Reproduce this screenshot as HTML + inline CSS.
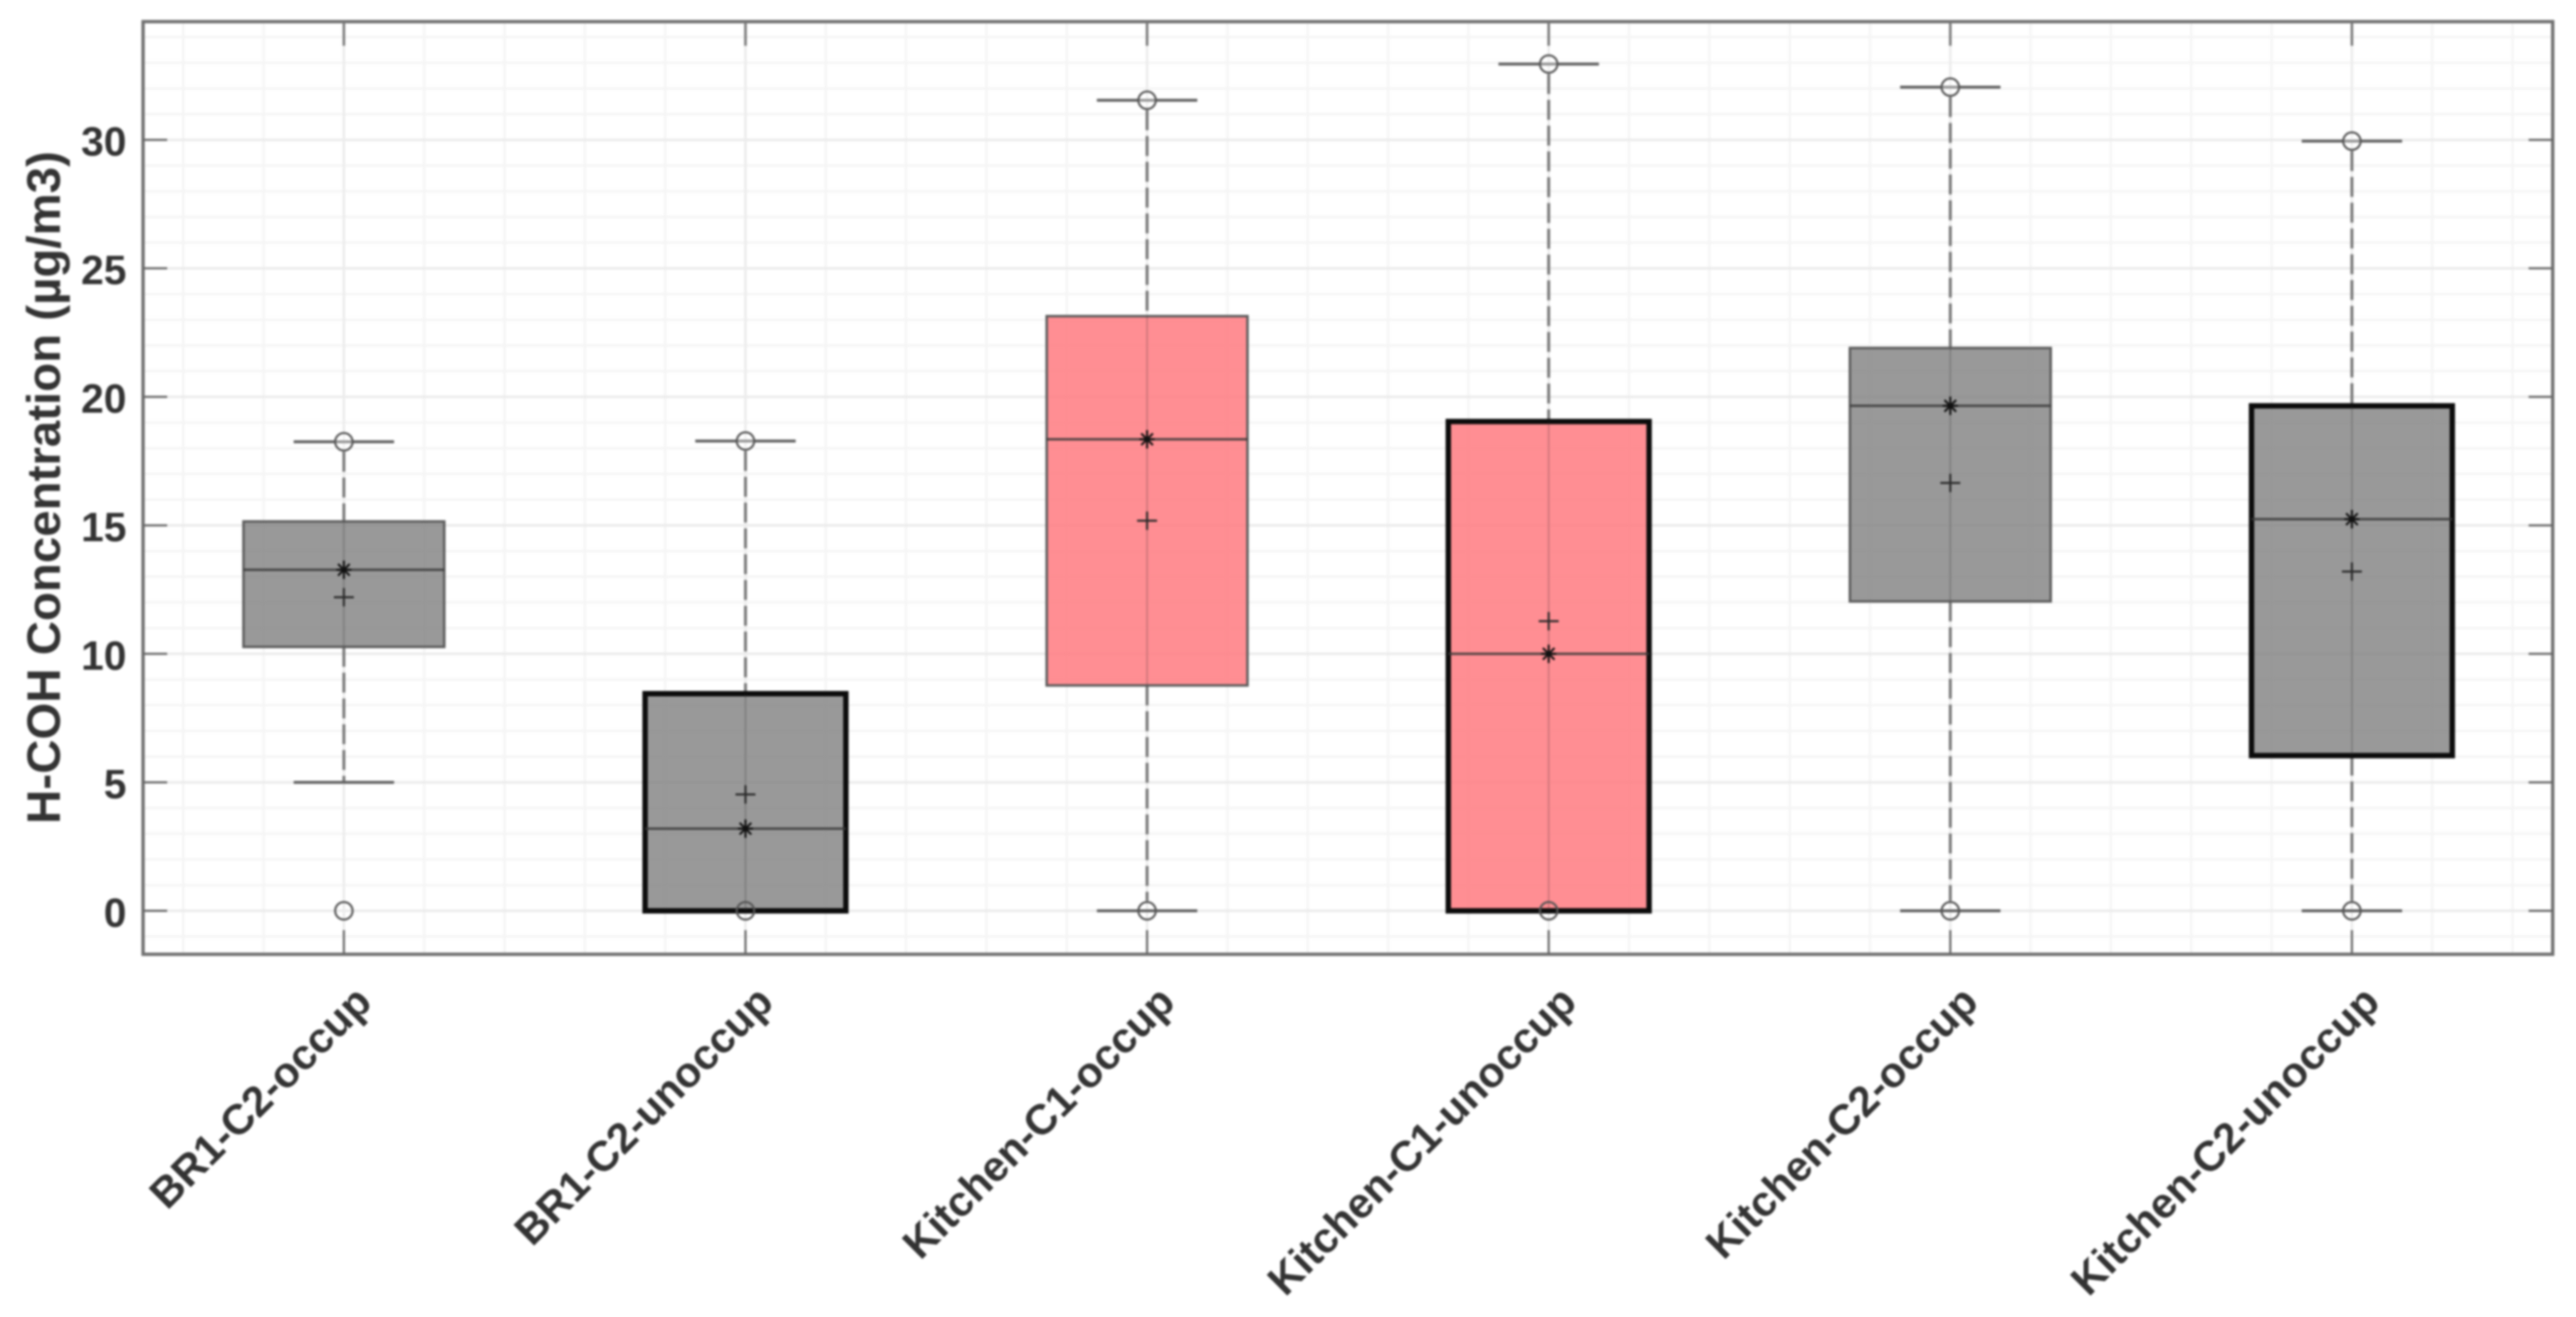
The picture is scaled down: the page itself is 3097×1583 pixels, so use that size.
<!DOCTYPE html>
<html lang="en">
<head>
<meta charset="utf-8">
<title>H-COH Concentration box plot</title>
<style>
html,body{margin:0;padding:0;background:#fff;width:3097px;height:1583px;overflow:hidden}
svg{display:block;filter:blur(1.3px)}
text{font-family:"Liberation Sans",Arial,sans-serif;font-weight:bold;fill:#333}
</style>
</head>
<body>
<svg id="chart" xmlns="http://www.w3.org/2000/svg" width="3097" height="1583" viewBox="0 0 3097 1583"></svg>
<script>
const categories = ["BR1-C2-occup","BR1-C2-unoccup","Kitchen-C1-occup","Kitchen-C1-unoccup","Kitchen-C2-occup","Kitchen-C2-unoccup"];
const q1Values = [10.27,0,8.77,0,12.04,6.04];
const q3Values = [15.15,8.45,23.14,19.04,21.9,19.65];
const medianValues = [13.27,3.2,18.35,10.0,19.65,15.24];
const meanValues = [12.2,4.53,15.18,11.27,16.65,13.2];
const whiskerLow = [5.0,0,0,0,0,0];
const whiskerHigh = [18.25,18.28,31.54,32.95,32.05,29.95];
const maxMarkers = [18.25,18.28,31.54,32.95,32.05,29.95];
const minMarkers = [0,0,0,0,0,0];
const groupKinds = ["BR1","BR1","C1","C1","C2","C2"];
const emphasised = [false,true,false,true,false,true];
const yTickLabels = [0,5,10,15,20,25,30];
const yMinorValues = [-1,1,2,3,4,6,7,8,9,11,12,13,14,16,17,18,19,21,22,23,24,26,27,28,29,31,32,33,34];
const xMinorPositions = [0.6,0.8,1.2,1.4,1.6,1.8,2.2,2.4,2.6,2.8,3.2,3.4,3.6,3.8,4.2,4.4,4.6,4.8,5.2,5.4,5.6,5.8,6.2,6.4];
const yAxisTitle = "H-COH Concentration (µg/m3)";

const plot = {left:172,right:3069,top:26,bottom:1147};
const xDomain = [0.5,6.5];
const yDomain = [-1.69,34.6];
function xScale(v){return plot.left+(v-xDomain[0])/(xDomain[1]-xDomain[0])*(plot.right-plot.left);}
function yScale(v){return plot.bottom-(v-yDomain[0])/(yDomain[1]-yDomain[0])*(plot.bottom-plot.top);}

const svg = document.getElementById('chart');
const NS = 'http://www.w3.org/2000/svg';
function mk(tag,attrs,parent){
  const n=document.createElementNS(NS,tag);
  for(const k in attrs){n.setAttribute(k,attrs[k]);}
  (parent||svg).appendChild(n);
  return n;
}
let el;

// grid
const gridGroup = mk('g',{});


yMinorValues.forEach(function(v){
  el = mk('line',{x1:plot.left,x2:plot.right,y1:yScale(v),y2:yScale(v),stroke:'#f5f5f5','stroke-width':3},gridGroup);
  
  
});
xMinorPositions.forEach(function(v){
  el = mk('line',{x1:xScale(v),x2:xScale(v),y1:plot.top,y2:plot.bottom,stroke:'#f5f5f5','stroke-width':3},gridGroup);
  
  
});
yTickLabels.forEach(function(v){
  el = mk('line',{x1:plot.left,x2:plot.right,y1:yScale(v),y2:yScale(v),stroke:'#ebebeb','stroke-width':3},gridGroup);
  
  
});
categories.forEach(function(c,i){
  el = mk('line',{x1:xScale(i+1),x2:xScale(i+1),y1:plot.top,y2:plot.bottom,stroke:'#ececec','stroke-width':3},gridGroup);
  
  
});

// boxes
categories.forEach(function(c,i){
  const cx = xScale(i+1);
  const g = mk('g',{});
  
  
  const halfBox = (xScale(2)-xScale(1))*0.25;
  const halfCap = (xScale(2)-xScale(1))*0.125;
  const dash = {stroke:'#777777','stroke-width':3.5,'stroke-dasharray':'24 7'};

  if(whiskerHigh[i]>q3Values[i]){
    el = mk('line',Object.assign({x1:cx,x2:cx,y1:yScale(whiskerHigh[i])+(maxMarkers[i]===whiskerHigh[i]?12:0),y2:yScale(q3Values[i])},dash),g);
    
    
  }
  if(whiskerLow[i]<q1Values[i]){
    el = mk('line',Object.assign({x1:cx,x2:cx,y1:yScale(q1Values[i]),y2:yScale(whiskerLow[i])-(minMarkers[i]===whiskerLow[i]?12:0)},dash),g);
    
    
  }
  el = mk('line',{x1:cx-halfCap,x2:cx+halfCap,y1:yScale(whiskerHigh[i]),y2:yScale(whiskerHigh[i]),stroke:'#606060','stroke-width':3.5},g);
  
  
  if(whiskerLow[i]<q1Values[i]){
    el = mk('line',{x1:cx-halfCap,x2:cx+halfCap,y1:yScale(whiskerLow[i]),y2:yScale(whiskerLow[i]),stroke:'#606060','stroke-width':3.5},g);
    
    
  }

  const isPink = groupKinds[i]==='C1';
  el = mk('rect',{x:cx-halfBox,y:yScale(q3Values[i]),width:halfBox*2,height:yScale(q1Values[i])-yScale(q3Values[i]),
    fill:isPink?'#ff7a80':'#808080','fill-opacity':isPink?0.85:0.8,stroke:'none'},g);
  
  
  el = mk('rect',{x:cx-halfBox,y:yScale(q3Values[i]),width:halfBox*2,height:yScale(q1Values[i])-yScale(q3Values[i]),
    fill:'none',stroke:emphasised[i]?'#0c0c0c':'#5c5c5c','stroke-width':emphasised[i]?6.5:3},g);
  
  

  el = mk('line',{x1:cx,x2:cx,y1:yScale(q3Values[i]),y2:yScale(q1Values[i]),stroke:'#333','stroke-opacity':0.22,'stroke-width':2},g);
  
  

  el = mk('line',{x1:cx-halfBox,x2:cx+halfBox,y1:yScale(medianValues[i]),y2:yScale(medianValues[i]),stroke:'#3a3a3a','stroke-opacity':0.85,'stroke-width':3},g);
  
  

  // max and min circles
  el = mk('circle',{cx:cx,cy:yScale(maxMarkers[i]),r:10.5,fill:'#fff','fill-opacity':0.35,stroke:'#555','stroke-width':2.5},g);
  
  
  el = mk('circle',{cx:cx,cy:yScale(minMarkers[i]),r:10.5,fill:'none',stroke:'#555','stroke-width':2.5},g);
  
  

  // mean plus
  const my = yScale(meanValues[i]);
  el = mk('path',{d:'M'+(cx-12)+' '+my+'H'+(cx+12)+'M'+cx+' '+(my-11)+'V'+(my+11),stroke:'#2a2a2a','stroke-width':2.5,fill:'none'},g);
  
  

  // median star
  const sy = yScale(medianValues[i]);
  el = mk('path',{d:'M'+(cx-9)+' '+sy+'H'+(cx+9)+'M'+cx+' '+(sy-11)+'V'+(sy+11)+'M'+(cx-7)+' '+(sy-7)+'L'+(cx+7)+' '+(sy+7)+'M'+(cx+7)+' '+(sy-7)+'L'+(cx-7)+' '+(sy+7),stroke:'#111','stroke-width':2.5,fill:'none'},g);
  
  
});

// axes frame
el = mk('rect',{x:plot.left,y:plot.top,width:plot.right-plot.left,height:plot.bottom-plot.top,fill:'none',stroke:'#707070','stroke-width':4});



// y ticks
yTickLabels.forEach(function(v){
  const y = yScale(v);
  el = mk('line',{x1:plot.left,x2:plot.left+29,y1:y,y2:y,stroke:'#666','stroke-width':2.5});
  
  
  el = mk('line',{x1:plot.right-29,x2:plot.right,y1:y,y2:y,stroke:'#666','stroke-width':2.5});
  
  
  el = mk('text',{x:152,y:y+19,'text-anchor':'end','font-size':49});
  
  
  el.textContent = String(v);
});

// x ticks and labels
categories.forEach(function(c,i){
  const x = xScale(i+1);
  el = mk('line',{x1:x,x2:x,y1:plot.bottom-29,y2:plot.bottom,stroke:'#666','stroke-width':2.5});
  
  
  el = mk('line',{x1:x,x2:x,y1:plot.top,y2:plot.top+29,stroke:'#777','stroke-width':3});
  
  
  el = mk('text',{'text-anchor':'end','font-size':51,transform:'translate('+(x+36)+' 1207) rotate(-45)'});
  
  
  el.textContent = c;
});

// y axis title
el = mk('text',{'text-anchor':'middle','font-size':57,transform:'translate(72 586) rotate(-90)'});


el.textContent = yAxisTitle;
</script>
</body>
</html>
